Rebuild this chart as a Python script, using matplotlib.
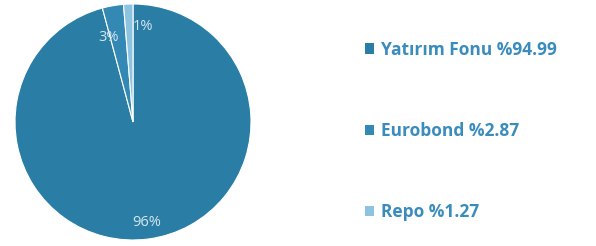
import matplotlib.pyplot as plt
from matplotlib.patches import Patch

plt.rcParams["font.family"] = ["Open Sans", "DejaVu Sans"]

labels = ["Yatırım Fonu", "Eurobond", "Repo"]
shares = [94.99, 2.87, 1.27]
colors = ["#2a7ea6", "#3389b4", "#8cc3e0"]

W, H = 596, 246
fig = plt.figure(figsize=(W / 100, H / 100), dpi=100)

# pie occupies a square of ~236 px, centred at (133, 122) px
ax = fig.add_axes([15 / W, 6 / H, 236 / W, 236 / H])
wedges, texts, autotexts = ax.pie(
    shares, colors=colors, startangle=90, counterclock=False,
    autopct="%.0f%%", pctdistance=0.86,
    wedgeprops=dict(edgecolor="white", linewidth=0.8),
    textprops=dict(color="#d6e6ef", fontsize=10.5),
)
ax.set_xlim(-1, 1)
ax.set_ylim(-1, 1)
ax.set_aspect("equal")
# small slice labels sit close together near the top
autotexts[1].set_position((-0.21, 0.72))
autotexts[2].set_position((0.08, 0.81))

handles = [Patch(facecolor=c, edgecolor="none") for c in colors]
leg_labels = [f"{l} %{v:.2f}" for l, v in zip(labels, shares)]
leg = fig.legend(handles, leg_labels, loc="upper left",
                 bbox_to_anchor=(349 / W, 1 - 25 / H), frameon=False,
                 handlelength=0.55, handleheight=0.55, handletextpad=0.4,
                 labelspacing=3.65, prop=dict(weight="bold", size=12.5))
for t in leg.get_texts():
    t.set_color("#3a8cbd")

fig.savefig("out.png", dpi=100)
